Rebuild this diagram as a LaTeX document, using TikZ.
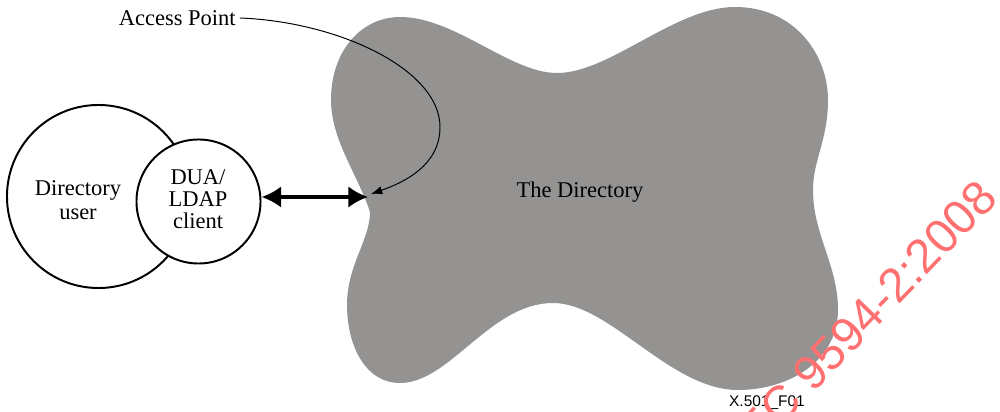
\documentclass[tikz,border=0pt]{standalone}
\usepackage{fontspec}
\setmainfont{Liberation Serif}
\newfontfamily\labelfont{Liberation Sans}
\usetikzlibrary{arrows.meta}
\definecolor{dirgray}{RGB}{148,147,146}
\definecolor{markred}{RGB}{255,112,112}
\tikzset{
  ring/.style={circle,draw,line width=1.4pt,inner sep=0pt},
  txt/.style={font=\fontsize{16}{15.5}\selectfont,align=center,inner sep=0pt},
}
\begin{document}
\begin{tikzpicture}[x=0.025cm,y=-0.025cm,line cap=round,line join=round,>=latex]
  \clip (0,0) rectangle (1000,412);
  \fill[dirgray] (370,212)
    .. controls (358,175) and (331,140) .. (331,100)
    .. controls (331,50) and (362,17) .. (400,17)
    .. controls (455,17) and (510,73) .. (557,73)
    .. controls (610,73) and (675,7) .. (735,7)
    .. controls (795,7) and (828,55) .. (828,100)
    .. controls (828,140) and (813,160) .. (813,190)
    .. controls (813,235) and (838,265) .. (838,310)
    .. controls (838,360) and (790,390) .. (738,390)
    .. controls (670,390) and (610,303) .. (553,303)
    .. controls (490,303) and (450,383) .. (400,383)
    .. controls (365,383) and (347,345) .. (347,305)
    .. controls (347,265) and (370,240) .. (370,212) -- cycle;
  \node[ring,minimum size=4.575cm] (user) at (98.5,196.5) {};
  \node[ring,fill=white,minimum size=3.1cm] (dua) at (198.5,201.5) {};
  \node[txt,font=\fontsize{16}{17.5}\selectfont] (usertext) at (78,200) {Directory\\user};
  \node[txt] (duatext) at (198,199) {DUA/\\LDAP\\client};
  \node[txt] (dir) at (580,192) {The Directory};
  \node[txt,anchor=east] (ap) at (236,18) {Access Point};
  \coordinate (apoint) at (368,197);
  \coordinate (aptip) at (371,194);
  \draw[line width=2.8pt,{Latex[length=14pt,width=15.5pt]}-{Latex[length=14pt,width=15.5pt]}]
    (dua.east |- apoint) -- (apoint);
  \draw[line width=0.7pt,-{Latex[length=8pt,width=6pt]}] ([xshift=3pt]ap.east)
    .. controls (340,22) and (440,70) .. (440,127)
    .. controls (440,165) and (405,182) .. (aptip);
  \node[font=\labelfont\fontsize{11}{12}\selectfont,inner sep=0pt] (fig) at (767,403) {X.501\_F01};
  \node[font=\labelfont\fontsize{34}{36}\selectfont,text=markred,rotate=46,
    anchor=base east,inner sep=0pt] (mark) at (1000,200) {ISO/IEC 9594-2:2008};
\end{tikzpicture}
\end{document}
